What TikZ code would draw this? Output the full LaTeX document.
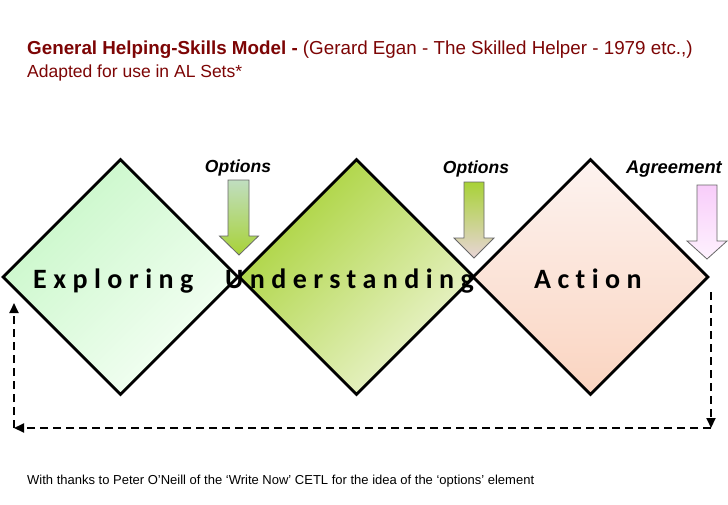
\documentclass[tikz,border=0pt]{standalone}
\usepackage{fontspec}
\setmainfont{Liberation Sans}
\newfontfamily\stagefont[LetterSpace=23,Ligatures={NoCommon}]{Carlito}
\usetikzlibrary{shapes.geometric,arrows.meta}
\definecolor{titlered}{RGB}{125,5,5}
\definecolor{exA}{RGB}{200,247,200}
\definecolor{exB}{RGB}{246,255,246}
\definecolor{unA}{RGB}{168,210,55}
\definecolor{unB}{RGB}{238,245,212}
\definecolor{acA}{RGB}{253,243,240}
\definecolor{acB}{RGB}{250,212,192}
\tikzset{
  stage/.style={diamond, draw=black, line width=2.8pt, minimum width=236pt, minimum height=236pt, inner sep=0pt, aspect=1},
  stagetext/.style={anchor=base west, inner sep=0pt, font=\stagefont\bfseries\fontsize{28}{31}\selectfont},
  optlabel/.style={anchor=base, inner sep=0pt, font=\bfseries\itshape\fontsize{17.5}{20}\selectfont},
  blockarrow/.style={draw=black!60, line width=0.8pt},
  loopline/.style={dashed, dash pattern=on 8pt off 5pt, line width=2pt, -{Triangle[length=10pt,width=9pt]}},
}
\begin{document}
\begin{tikzpicture}[x=1pt,y=-1pt]
\useasboundingbox (0,0) rectangle (728,504);
\fill[white] (0,0) rectangle (728,504);
% title
\node[anchor=base west, inner sep=0pt, text=titlered, font=\fontsize{18.8}{21}\selectfont] (title1) at (27,54) {\textbf{General Helping-Skills Model -} (Gerard Egan - The Skilled Helper - 1979 etc.,)};
\node[anchor=base west, inner sep=0pt, text=titlered, font=\fontsize{17.5}{20}\selectfont] (title2) at (27,77) {Adapted for use in AL Sets*};
% diamonds
\node[stage, top color=exA, bottom color=exB, shading angle=45] (explore) at (120.5,277) {};
\node[stage, top color=unA, bottom color=unB, shading angle=45] (under) at (356.5,277) {};
\node[stage, top color=acA, bottom color=acB] (act) at (590.5,277) {};
% stage labels
\node[stagetext] (lexp) at (33,288) {Exploring};
\node[stagetext] (lund) at (225,288) {Understanding};
\node[stagetext] (lact) at (534,288) {Action};
% block arrows
\path[blockarrow, top color={rgb,255:red,192;green,222;blue,192}, bottom color=unA]
  (228,180) -- (249,180) -- (249,236) -- (258.5,236) -- (239,255) -- (219.5,236) -- (228,236) -- cycle;
\path[blockarrow, top color=unA, bottom color={rgb,255:red,232;green,212;blue,214}]
  (464,182) -- (484,182) -- (484,238) -- (494,238) -- (474,258) -- (454,238) -- (464,238) -- cycle;
\path[blockarrow, top color={rgb,255:red,248;green,205;blue,250}, bottom color={rgb,255:red,254;green,242;blue,254}]
  (697,185) -- (717,185) -- (717,241) -- (727,241) -- (707,259) -- (687,241) -- (697,241) -- cycle;
% arrow labels
\node[optlabel] (opt1) at (238,172) {Options};
\node[optlabel] (opt2) at (476,173) {Options};
\node[optlabel, font=\bfseries\itshape\fontsize{18.3}{20}\selectfont] (agree) at (674,173) {Agreement};
% dashed return loop
\coordinate (rtop) at (711,292);
\coordinate (rbot) at (711,428);
\coordinate (lbot) at (14,428);
\coordinate (ltop) at (14,303);
\draw[loopline] (rtop) -- (rbot);
\draw[loopline] (rbot) -- (lbot);
\draw[loopline] (lbot) -- (ltop);
% footnote
\node[anchor=base west, inner sep=0pt, font=\fontsize{13}{15}\selectfont] (thanks) at (27,484) {With thanks to Peter O’Neill of the ‘Write Now’ CETL for the idea of the ‘options’ element};
\end{tikzpicture}
\end{document}
